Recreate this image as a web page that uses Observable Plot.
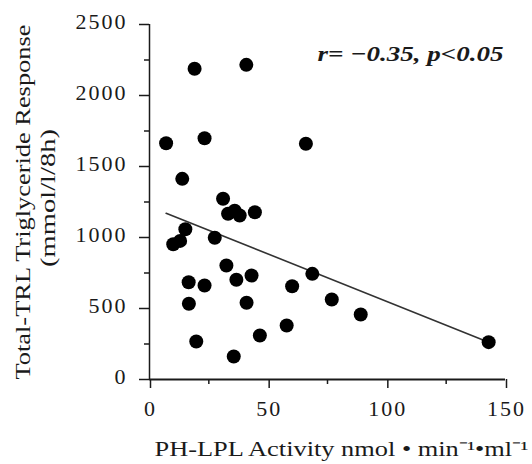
<!DOCTYPE html>
<html>
<head>
<meta charset="utf-8">
<script src="https://cdn.jsdelivr.net/npm/d3@7"></script>
<script src="https://cdn.jsdelivr.net/npm/@observablehq/plot@0.6"></script>
<style>
  html, body { margin: 0; padding: 0; background: #fff; }
  #chart svg { display: block; }
  g[aria-label="y-axis tick label"] text,
  g[aria-label="x-axis tick label"] text { letter-spacing: 2px; }
</style>
</head>
<body>
<div id="chart"></div>
<script>
// PH-LPL activity (x) vs total-TRL triglyceride response (y)
const lplActivity = [19.0, 40.8, 7.0, 23.2, 65.9, 13.8, 31.0, 33.1, 35.9, 38.0, 44.4,
  10.0, 12.9, 15.1, 27.5, 32.4, 36.6, 43.0, 16.5, 23.2, 16.6, 40.9, 60.1, 68.6,
  76.8, 89.0, 57.8, 46.5, 19.7, 35.5, 142.9];
const tgResponse = [2188, 2216, 1664, 1699, 1660, 1413, 1273, 1167, 1188, 1155, 1178,
  952, 976, 1058, 998, 803, 702, 732, 685, 662, 533, 540, 657, 744,
  563, 458, 380, 310, 268, 162, 263];

// regression line end points
const fitX = [7.0, 142.9];
const fitY = [1171, 263];

const xTicks = [0, 50, 100, 150];
const xMinorTicks = [25, 75, 125];
const yTicks = [0, 500, 1000, 1500, 2000, 2500];
const yMinorTicks = [250, 750, 1250, 1750, 2250];

const xTitle = "PH-LPL Activity nmol • min⁻¹•ml⁻¹";
const yTitle1 = "Total-TRL Triglyceride Response";
const yTitle2 = "(mmol/l/8h)";
const annotation = "r= −0.35, p<0.05";

const points = lplActivity.map((x, i) => ({x, y: tgResponse[i]}));
const fit = fitX.map((x, i) => ({x, y: fitY[i]}));

const font = "Liberation Serif, Times New Roman, serif";
const ink = "#1a1a1a";

const chart = Plot.plot({
  width: 532,
  height: 464,
  marginLeft: 149,
  marginRight: 27,
  marginTop: 24,
  marginBottom: 85,
  style: {fontFamily: font, color: ink, background: "#fff", overflow: "visible"},
  x: {domain: [0, 150]},
  y: {domain: [0, 2500]},
  marks: [
    Plot.axisX({ticks: xTicks, tickSize: 9, tickPadding: 12, tickFormat: d3.format("d"),
      fontSize: 22, label: null, stroke: ink, strokeWidth: 1.5, dx: 1}),
    Plot.axisX({ticks: xMinorTicks, tickSize: 5, text: null, label: null, stroke: ink, strokeWidth: 1.5}),
    Plot.axisY({ticks: yTicks, tickSize: 10, text: null, label: null, stroke: ink, strokeWidth: 1.5}),
    Plot.axisY({ticks: yTicks, tickSize: 0, tickPadding: 22, tickFormat: d3.format("d"),
      fontSize: 22, label: null, dy: -3}),
    Plot.axisY({ticks: yMinorTicks, tickSize: 5, text: null, label: null, stroke: ink, strokeWidth: 1.5}),
    Plot.ruleY([0], {stroke: ink, strokeWidth: 2}),
    Plot.ruleX([0], {stroke: ink, strokeWidth: 1.5}),
    Plot.line(fit, {x: "x", y: "y", stroke: "#333", strokeWidth: 1.6}),
    Plot.dot(points, {x: "x", y: "y", r: 7, fill: "#000", stroke: "none"}),
    Plot.text([annotation], {text: d => d, frameAnchor: "top-right", textAnchor: "end", lineAnchor: "middle",
      dx: -2, dy: 29, fontSize: 22, fontWeight: "bold", fontStyle: "italic", fill: ink}),
    Plot.text([xTitle], {text: d => d, frameAnchor: "bottom-left", textAnchor: "start", lineAnchor: "middle",
      dx: 5, dy: 69, fontSize: 22, fill: ink}),
    Plot.text([yTitle1], {text: d => d, frameAnchor: "left", rotate: -90, textAnchor: "middle", lineAnchor: "middle",
      dx: -127, dy: 0, fontSize: 22, fill: ink}),
    Plot.text([yTitle2], {text: d => d, frameAnchor: "left", rotate: -90, textAnchor: "middle", lineAnchor: "middle",
      dx: -102, dy: -4, fontSize: 22, fill: ink})
  ]
});

// stretch the titles to the widths they occupy in the figure
const stretch = {[xTitle]: 374, [yTitle1]: 355, [yTitle2]: 138, [annotation]: 186};
d3.select(chart).selectAll("text").each(function() {
  const t = this.textContent;
  if (stretch[t]) {
    d3.select(this).attr("textLength", stretch[t]).attr("lengthAdjust", "spacingAndGlyphs");
  }
});
document.getElementById("chart").appendChild(chart);
</script>
</body>
</html>
